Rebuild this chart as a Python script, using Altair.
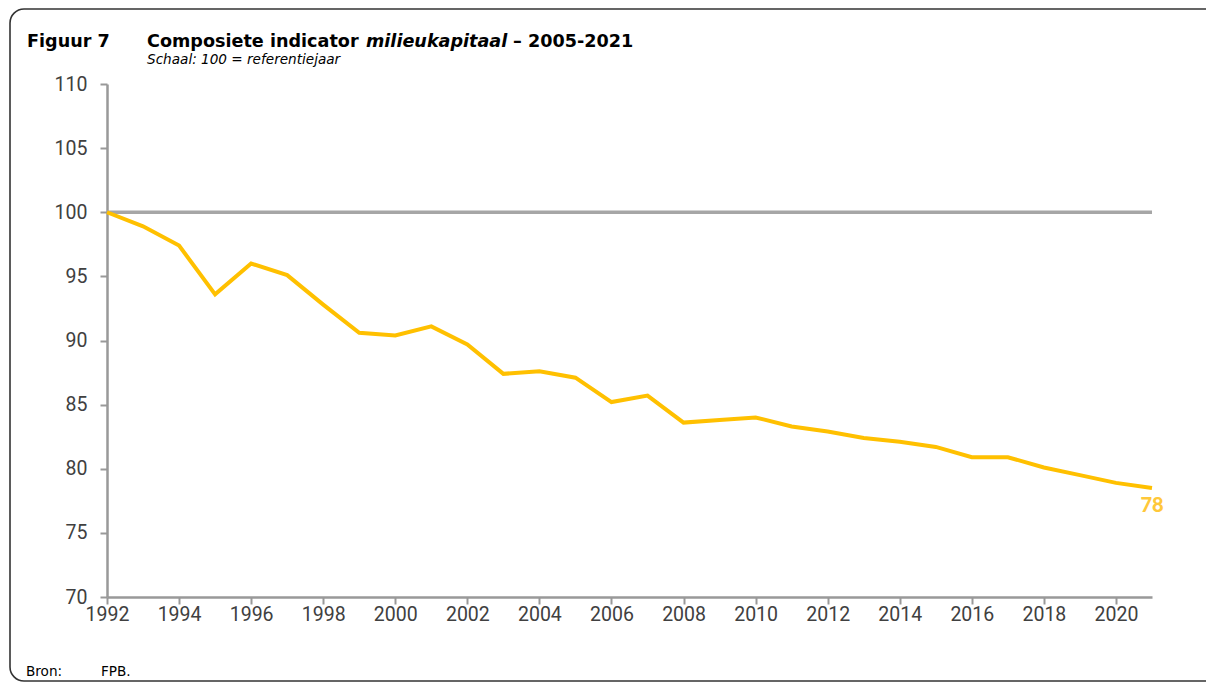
import altair as alt
import pandas as pd

years = list(range(1992, 2022))
values = [100.0, 98.9, 97.4, 93.6, 96.0, 95.1, 92.8, 90.6, 90.4, 91.1,
          89.7, 87.4, 87.6, 87.1, 85.2, 85.7, 83.6, 83.8, 84.0, 83.3,
          82.9, 82.4, 82.1, 81.7, 80.9, 80.9, 80.1, 79.5, 78.9, 78.5]
reference_value = [100]
end_label = ["78"]
y_ticks = [70, 75, 80, 85, 90, 95, 100, 105, 110]

fig_label = "Figuur 7"
title_part1 = "Composiete indicator"
title_part2 = "milieukapitaal"
title_part3 = "\u2013 2005-2021"
subtitle = "Schaal: 100 = referentiejaar"
source_label = "Bron:"
source_text = "FPB."

W, H = 1045, 513
PAD = {"left": 99, "top": 76, "right": 54, "bottom": 86}

line_df = pd.DataFrame({"year": years, "value": values})
ref_df = pd.DataFrame({"y": reference_value, "x": [years[0]], "x2": [years[-1]]})
end_df = pd.DataFrame({"year": [years[-1]], "value": [values[-1]], "label": end_label})
one = pd.DataFrame({"a": [0]})

FONT = "Roboto"
TFONT = "DejaVu Sans"

x_enc = alt.X("year:Q", scale=alt.Scale(domain=[1992, 2021], nice=False, zero=False),
              axis=alt.Axis(values=years, format="d",
                            labelExpr="datum.value % 2 == 0 ? datum.label : ''",
                            title=None, grid=False, tickSize=7, tickWidth=2,
                            tickColor="#999999", domainColor="#999999", domainWidth=2.5,
                            labelFont=FONT, labelFontSize=19.5, labelColor="#404040",
                            labelPadding=1, labelFlush=False, labelOverlap=False))
y_enc = alt.Y("value:Q", scale=alt.Scale(domain=[70, 110], nice=False, zero=False),
              axis=alt.Axis(values=y_ticks, title=None, grid=False, tickSize=7, tickWidth=2,
                            tickColor="#999999", domainColor="#999999", domainWidth=2.5,
                            labelFont=FONT, labelFontSize=19.5, labelColor="#404040",
                            labelPadding=13))

ref_rule = alt.Chart(ref_df).mark_rule(color="#A6A6A6", strokeWidth=3.5).encode(
    y=alt.Y("y:Q", scale=alt.Scale(domain=[70, 110], nice=False, zero=False)),
    x=alt.X("x:Q", scale=alt.Scale(domain=[1992, 2021], nice=False, zero=False)),
    x2="x2:Q")

line = alt.Chart(line_df).mark_line(color="#FFC000", strokeWidth=4).encode(x=x_enc, y=y_enc)

end_text = alt.Chart(end_df).mark_text(
    font="Lato", fontSize=20, fontWeight=900, color="#FFC83A", dy=18, align="center",
    baseline="middle").encode(x="year:Q", y="value:Q", text="label:N")

def txt(s, x, y, size, weight="normal", style="normal", color="#000000", font=TFONT):
    return alt.Chart(one).mark_text(
        text=s, font=font, fontSize=size, fontWeight=weight, fontStyle=style, color=color,
        align="left", baseline="alphabetic").encode(x=alt.value(x), y=alt.value(y))

t_fig = txt(fig_label, -80, -37, 17.6, "bold")
t1 = txt(title_part1, 40, -37, 17.6, "bold")
t2 = txt(title_part2, 259, -37, 17.6, "bold", "italic")
t3 = txt(title_part3, 406, -37, 17.6, "bold")
t_sub = txt(subtitle, 40, -20, 13.6, "normal", "italic")
t_bron = txt(source_label, -81, 592, 13.6)
t_fpb = txt(source_text, -6, 592, 13.6)

border = alt.Chart(one).mark_rect(
    fillOpacity=0, stroke="#333333", strokeWidth=1.6, cornerRadius=14).encode(
    x=alt.value(-97), x2=alt.value(1112), y=alt.value(-75), y2=alt.value(H + PAD["bottom"] - 2))

chart = alt.layer(border, ref_rule, line, end_text, t_fig, t1, t2, t3, t_sub, t_bron, t_fpb).properties(
    width=W, height=H, padding=PAD,
    autosize=alt.AutoSizeParams(type="none"),
    background="white",
).configure_view(strokeWidth=0)

chart.save("out.html", embed_options={"renderer": "svg", "actions": False})
